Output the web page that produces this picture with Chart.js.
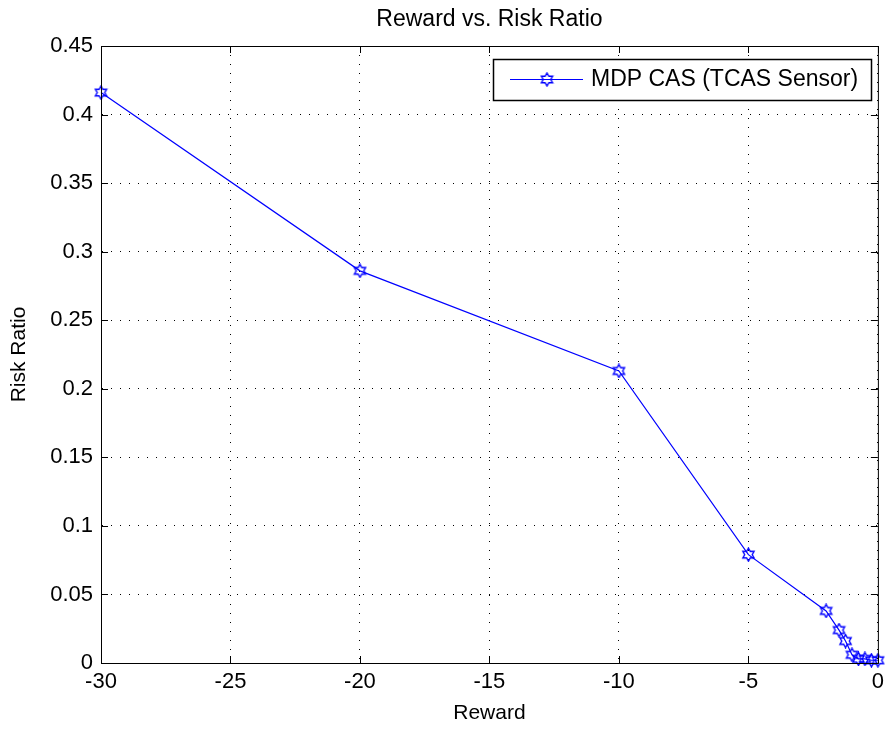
<!DOCTYPE html>
<html>
<head>
<meta charset="utf-8">
<script src="https://cdn.jsdelivr.net/npm/chart.js@4"></script>
<style>
  body { margin: 0; background: #fff; }
  #wrap { width: 890px; height: 729px; }
</style>
</head>
<body>
<div id="wrap"><canvas id="riskChart"></canvas></div>
<script>
// values
const rewards = [-30, -20, -10, -5, -2, -1.5, -1.25, -1, -0.75, -0.5, -0.25, 0];
const riskRatio = [0.416, 0.286, 0.213, 0.079, 0.038, 0.024, 0.016, 0.006, 0.003, 0.003, 0.002, 0.002];
const xTicks = [-30, -25, -20, -15, -10, -5, 0];
const yTicks = [0, 0.05, 0.1, 0.15, 0.2, 0.25, 0.3, 0.35, 0.4, 0.45];

const fontFam = '"Liberation Sans", Arial, sans-serif';

// hexagram marker like matlab's 'h'
function hexagram(size, color) {
  const c = document.createElement('canvas');
  c.width = size; c.height = size;
  const g = c.getContext('2d');
  const cx = size / 2, cy = size / 2, ro = size / 2 - 1, ri = ro / Math.sqrt(3);
  g.beginPath();
  for (let i = 0; i < 12; i++) {
    const r = i % 2 ? ri : ro;
    const a = -Math.PI / 2 + i * Math.PI / 6;
    const px = cx + r * Math.cos(a), py = cy + r * Math.sin(a);
    if (i === 0) g.moveTo(px, py); else g.lineTo(px, py);
  }
  g.closePath();
  g.strokeStyle = color;
  g.lineWidth = 1.4;
  g.stroke();
  return c;
}
const star = hexagram(15, '#0000ff');

// box, inward ticks and the legend box
const boxPlugin = {
  id: 'boxPlugin',
  afterDraw(chart) {
    const { ctx, chartArea: a, scales } = chart;
    ctx.save();
    ctx.strokeStyle = '#000';
    ctx.lineWidth = 1;
    ctx.strokeRect(a.left + 0.5, a.top + 0.5, a.right - a.left, a.bottom - a.top);
    ctx.beginPath();
    xTicks.forEach(v => {
      const x = Math.round(scales.x.getPixelForValue(v)) + 0.5;
      ctx.moveTo(x, a.bottom); ctx.lineTo(x, a.bottom - 7);
      ctx.moveTo(x, a.top); ctx.lineTo(x, a.top + 7);
    });
    yTicks.forEach(v => {
      const y = Math.round(scales.y.getPixelForValue(v)) + 0.5;
      ctx.moveTo(a.left, y); ctx.lineTo(a.left + 7, y);
      ctx.moveTo(a.right, y); ctx.lineTo(a.right - 7, y);
    });
    ctx.stroke();

    // legend
    const lx = 493, ly = 59, lw = 378, lh = 41;
    ctx.fillStyle = '#fff';
    ctx.fillRect(lx, ly, lw, lh);
    ctx.lineWidth = 1.5;
    ctx.strokeRect(lx + 0.5, ly + 0.5, lw, lh);
    ctx.lineWidth = 1.2;
    ctx.strokeStyle = '#0000ff';
    ctx.beginPath();
    ctx.moveTo(510, ly + 20.5); ctx.lineTo(583, ly + 20.5);
    ctx.stroke();
    ctx.drawImage(star, 547 - 7.5, ly + 20.5 - 7.5);
    ctx.fillStyle = '#000';
    ctx.font = '23px ' + fontFam;
    ctx.textBaseline = 'middle';
    ctx.fillText(chart.data.datasets[0].label, 591, ly + 21);
    ctx.restore();
  }
};

new Chart(document.getElementById('riskChart'), {
  type: 'line',
  data: {
    datasets: [{
      label: 'MDP CAS (TCAS Sensor)',
      data: rewards.map((r, i) => ({ x: r, y: riskRatio[i] })),
      borderColor: '#0000ff',
      borderWidth: 1.2,
      pointStyle: star,
      pointRadius: 7,
      tension: 0,
      clip: false
    }]
  },
  options: {
    responsive: true,
    maintainAspectRatio: false,
    animation: false,
    layout: { padding: { left: 0, right: 8, top: 0, bottom: 0 } },
    plugins: {
      legend: { display: false },
      tooltip: { enabled: false },
      title: {
        display: true,
        text: 'Reward vs. Risk Ratio',
        fullSize: false,
        color: '#000',
        font: { family: fontFam, size: 23, weight: 'normal' },
        padding: { top: 6, bottom: 12.4 }
      }
    },
    scales: {
      x: {
        type: 'linear',
        min: -30, max: 0,
        afterBuildTicks: s => { s.ticks = xTicks.map(v => ({ value: v })); },
        afterFit: s => { s.height = 66; },
        ticks: {
          color: '#000', padding: 6, maxRotation: 0,
          font: { family: fontFam, size: 22 },
          callback: v => String(v)
        },
        grid: { color: '#000', lineWidth: 1, drawTicks: false },
        border: { display: true, color: '#000', dash: [1, 8] },
        title: {
          display: true, text: 'Reward', color: '#000',
          font: { family: fontFam, size: 21 },
          padding: { top: 0, bottom: 3 }
        }
      },
      y: {
        min: 0, max: 0.45,
        afterBuildTicks: s => { s.ticks = yTicks.map(v => ({ value: v })); },
        afterFit: s => { s.width = 101; },
        ticks: {
          color: '#000', padding: 8,
          font: { family: fontFam, size: 22 },
          callback: v => String(+v.toFixed(2))
        },
        grid: { color: '#000', lineWidth: 1, drawTicks: false },
        border: { display: true, color: '#000', dash: [1, 8] },
        title: {
          display: true, text: 'Risk Ratio', color: '#000',
          font: { family: fontFam, size: 21 },
          padding: { top: 7, bottom: 0 }
        }
      }
    }
  },
  plugins: [boxPlugin]
});
</script>
</body>
</html>
